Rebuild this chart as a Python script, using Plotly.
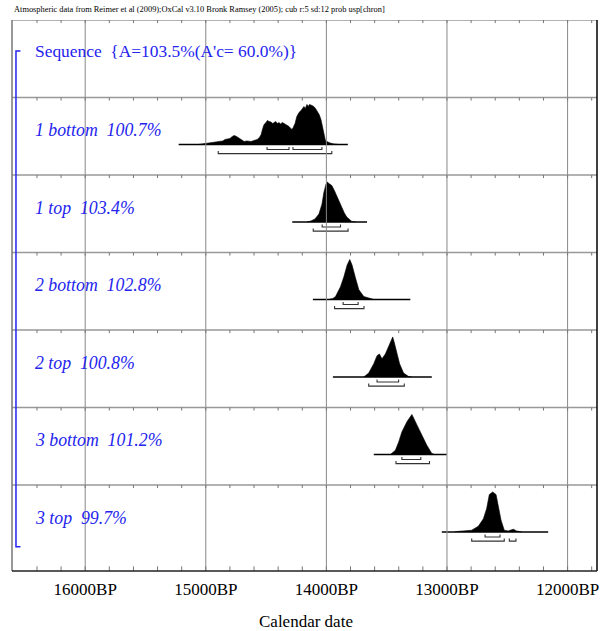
import plotly.graph_objects as go

# ---------------- text ----------------
title_text = ("Atmospheric data from Reimer et al (2009);OxCal v3.10 Bronk Ramsey (2005); "
              "cub r:5 sd:12 prob usp[chron]")
sequence_label = "Sequence  {A=103.5%(A'c= 60.0%)}"
row_labels = ["1 bottom  100.7%", "1 top  103.4%", "2 bottom  102.8%",
              "2 top  100.8%", "3 bottom  101.2%", "3 top  99.7%"]
x_title = "Calendar date"
tick_years = [16000, 15000, 14000, 13000, 12000]
tick_text = ["16000BP", "15000BP", "14000BP", "13000BP", "12000BP"]

# ---------------- data (calendar years BP, relative probability) ----------------
b1_span = [15225, 13822]
b1_years = [15060, 15029, 15000, 14971, 14930, 14888, 14860, 14840, 14822, 14800, 14780, 14764,
            14745, 14723, 14700, 14682, 14660, 14624, 14600, 14574, 14555, 14541, 14528, 14517,
            14500, 14490, 14475, 14460, 14445, 14434, 14420, 14405, 14393, 14380, 14365, 14351,
            14335, 14320, 14310, 14295, 14285, 14275, 14260, 14245, 14227, 14210, 14195, 14186,
            14175, 14161, 14150, 14140, 14120, 14105, 14090, 14079, 14060, 14045, 14033, 14021,
            14008, 13996, 13970, 13938, 13900]
b1_prob = [0, 0.5, 1, 1.5, 2, 3, 3.5, 5, 5.5, 6, 8, 9,
           8, 6, 4, 3, 3.5, 3, 4, 5, 7, 10, 16, 20,
           22, 24, 23, 22.5, 21, 22, 23, 21, 22, 20.5, 22, 21,
           20, 19, 18, 16, 15, 17, 21, 28, 32, 34, 37, 38,
           36, 40, 38, 40, 39, 38, 36, 34, 30, 25, 18, 8,
           4, 3, 1.5, 0.5, 0]
b1_r68 = [[14492, 14310], [14277, 14037]]
b1_r95 = [[14897, 13955]]

t1_span = [14283, 13663]
t1_years = [14161, 14128, 14095, 14062, 14037, 14021, 14004, 13993, 13979, 13955, 13934,
            13913, 13893, 13872, 13851, 13831, 13789, 13756]
t1_prob = [0, 1, 3, 8, 18, 30, 38, 40.6, 39, 37, 32, 26, 20, 14, 9, 5, 0.5, 0]
t1_r68 = [[14035, 13883]]
t1_r95 = [[14109, 13820]]

b2_span = [14112, 13304]
b2_years = [13979, 13946, 13924, 13905, 13883, 13855, 13828, 13806, 13787, 13759, 13731,
            13690, 13635, 13607]
b2_prob = [0, 1, 3, 7, 13, 23, 35, 40.7, 35, 22, 10, 3, 0.5, 0]
b2_r68 = [[13861, 13737]]
b2_r95 = [[13932, 13688]]

t2_span = [13946, 13126]
t2_years = [13690, 13649, 13607, 13580, 13560, 13539, 13511, 13483, 13467, 13450, 13438,
            13423, 13393, 13360, 13318, 13293]
t2_prob = [0, 4, 13.7, 22, 23.7, 18.7, 23.7, 32, 37, 41.3, 36, 28.7, 13.7, 4, 0.5, 0]
t2_r68 = [[13580, 13401]]
t2_r95 = [[13649, 13354]]

b3_span = [13607, 13002]
b3_years = [13469, 13428, 13401, 13374, 13332, 13291, 13250, 13208, 13167, 13126, 13103]
b3_prob = [0, 4, 12, 22, 32, 39, 29, 19, 9, 1, 0]
b3_r68 = [[13374, 13217]]
b3_r95 = [[13423, 13145]]

t3_span = [13043, 12161]
t3_years = [12932, 12795, 12740, 12698, 12671, 12649, 12621, 12593, 12574, 12552, 12525,
            12492, 12450, 12423, 12382]
t3_prob = [0.3, 1.7, 5.7, 13, 23, 36.7, 39.3, 36.7, 25, 11.7, 1.7, 1, 2.7, 1, 0]
t3_r68 = [[12684, 12560]]
t3_r95 = [[12795, 12525], [12483, 12428]]

rows = [
    (b1_span, b1_years, b1_prob, b1_r68, b1_r95),
    (t1_span, t1_years, t1_prob, t1_r68, t1_r95),
    (b2_span, b2_years, b2_prob, b2_r68, b2_r95),
    (t2_span, t2_years, t2_prob, t2_r68, t2_r95),
    (b3_span, b3_years, b3_prob, b3_r68, b3_r95),
    (t3_span, t3_years, t3_prob, t3_r68, t3_r95),
]

# ---------------- layout constants ----------------
X_LEFT, X_RIGHT = 16607, 11756
N_ROWS = 7
Y_BOTTOM = -0.11
BASE_OFF = 0.606      # baseline below row top
PEAK_H = 0.516        # peak height
R68_OFF = 0.065
R95_OFF = 0.118
CAP = 0.032
BLUE = "#2424ee"
GRID = "#888888"
FONT = "Liberation Serif, Times New Roman, serif"
LABEL_X = 16430

fig = go.Figure()

for k, (span, yrs, prob, r68, r95) in enumerate(rows, start=1):
    top = N_ROWS - k
    base = top - BASE_OFF
    pmax = max(prob)
    xs = [yrs[0]] + list(yrs) + [yrs[-1]]
    ys = [base] + [base + p / pmax * PEAK_H for p in prob] + [base]
    fig.add_trace(go.Scatter(x=xs, y=ys, mode="lines", fill="toself",
                             fillcolor="black", line=dict(color="black", width=0.6),
                             hoverinfo="skip", showlegend=False))
    fig.add_trace(go.Scatter(x=span, y=[base, base], mode="lines",
                             line=dict(color="black", width=1.6),
                             hoverinfo="skip", showlegend=False))
    bx, by = [], []
    for off, rr in ((R68_OFF, r68), (R95_OFF, r95)):
        yb = base - off
        for a, b in rr:
            bx += [a, a, b, b, None]
            by += [yb + CAP, yb, yb, yb + CAP, None]
    fig.add_trace(go.Scatter(x=bx, y=by, mode="lines",
                             line=dict(color="#333333", width=1.1),
                             hoverinfo="skip", showlegend=False))

# vertical grid lines (above marks)
gx, gy = [], []
for t in tick_years:
    gx += [t, t, None]
    gy += [Y_BOTTOM, N_ROWS, None]
fig.add_trace(go.Scatter(x=gx, y=gy, mode="lines", line=dict(color=GRID, width=1),
                         hoverinfo="skip", showlegend=False))

# row separators and minor ticks
sx, sy = [], []
for r in range(1, N_ROWS + 1):
    sx += [X_LEFT, X_RIGHT, None]
    sy += [r, r, None]
fig.add_trace(go.Scatter(x=sx, y=sy, mode="lines", line=dict(color="#999999", width=1.4),
                         hoverinfo="skip", showlegend=False))
tx, ty = [], []
minor = list(range(16400, 11700, -200))
for r in range(1, N_ROWS + 1):
    for m in minor:
        tx += [m, m, None]
        ty += [r, r - 0.04, None]
for m in minor:
    tx += [m, m, None]
    ty += [Y_BOTTOM, Y_BOTTOM + 0.06, None]
fig.add_trace(go.Scatter(x=tx, y=ty, mode="lines", line=dict(color="#777777", width=1),
                         hoverinfo="skip", showlegend=False))

# blue sequence bracket
fig.add_trace(go.Scatter(x=[16537, 16574, 16574, 16537], y=[6.6, 6.6, 0.204, 0.204],
                         mode="lines", line=dict(color=BLUE, width=1.5),
                         hoverinfo="skip", showlegend=False))

# frame
fig.add_shape(type="line", xref="paper", yref="paper", x0=0, x1=0, y0=0, y1=1,
              line=dict(color="#777777", width=1.5))
fig.add_shape(type="line", xref="paper", yref="paper", x0=1, x1=1, y0=0, y1=1,
              line=dict(color="black", width=1.5))
fig.add_shape(type="line", xref="paper", yref="paper", x0=0, x1=1, y0=0, y1=0,
              line=dict(color="#222222", width=1.6))

# labels
fig.add_annotation(x=LABEL_X, y=6.6, text=sequence_label, showarrow=False,
                   xanchor="left", yanchor="middle",
                   font=dict(family=FONT, size=17.4, color=BLUE))
for k, lab in enumerate(row_labels, start=1):
    fig.add_annotation(x=LABEL_X, y=N_ROWS - k - 0.42, text="<i>" + lab + "</i>",
                       showarrow=False, xanchor="left", yanchor="middle",
                       font=dict(family=FONT, size=17.8, color=BLUE))

fig.add_annotation(xref="paper", yref="paper", x=0, y=1, yshift=11, text=title_text,
                   showarrow=False, xanchor="left", yanchor="middle",
                   font=dict(family=FONT, size=8.4, color="black"))
fig.add_annotation(xref="paper", yref="paper", x=0.5026, y=0, yshift=-50, text=x_title,
                   showarrow=False, xanchor="center", yanchor="middle",
                   font=dict(family=FONT, size=17, color="black"))

fig.update_layout(
    width=601, height=631,
    margin=dict(l=12, r=2, t=20, b=60),
    paper_bgcolor="white", plot_bgcolor="white",
    showlegend=False,
    xaxis=dict(range=[X_LEFT, X_RIGHT], tickvals=tick_years, ticktext=tick_text,
               showgrid=False, zeroline=False, showline=False,
               ticks="outside", ticklen=3, tickcolor="rgba(0,0,0,0)",
               ticklabeloverflow="allow",
               tickfont=dict(family=FONT, size=17, color="black"), fixedrange=True),
    yaxis=dict(range=[Y_BOTTOM, N_ROWS], visible=False, fixedrange=True),
)

fig.write_html("out.html", config={"displayModeBar": False},
               post_script="document.body.style.margin='0';document.body.style.overflow='hidden';")
